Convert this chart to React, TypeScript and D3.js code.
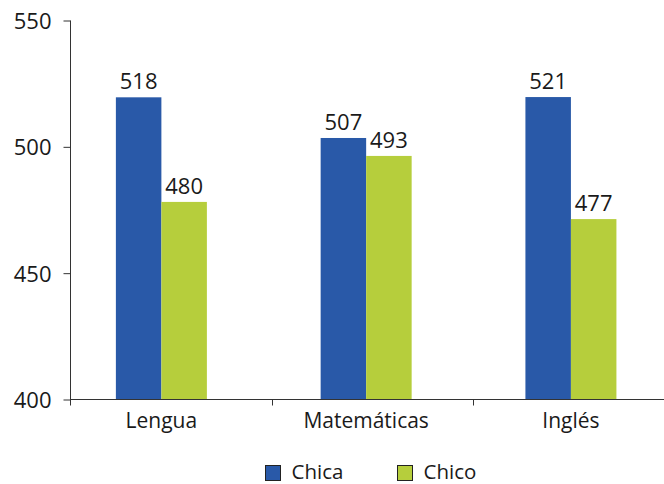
import { useEffect, useRef } from 'react';

import * as d3 from 'd3';

const WIDTH = 664;
const HEIGHT = 484;

const MARGIN = ({
  top: 20.5, right: 0, bottom: 84.5, left: 70.5,
});

const FONT = '"Open Sans", "Noto Sans", sans-serif';
const BLUE = '#2959a8';
const GREEN = '#b6ce3c';
const INK = '#1a1a1a';

const categories = ['Lengua', 'Matemáticas', 'Inglés'];
const series = ['Chica', 'Chico'];
// printed numbers above the bars
const chicaLabels = [518, 507, 521];
const chicoLabels = [480, 493, 477];
// bar heights as drawn in the picture (they don't quite match the printed numbers)
const chicaBars = [519.6, 503.5, 519.7];
const chicoBars = [478.2, 496.4, 471.4];
const yTicks = [400, 450, 500, 550];

function App() {
  const svgRef = useRef(null);

  useEffect(() => {
    const svg = d3.select(svgRef.current);
    svg.selectAll('*').remove();

    const y = d3.scaleLinear()
      .domain([400, 550])
      .range([HEIGHT - MARGIN.bottom, MARGIN.top]);

    // bar groups
    const x = d3.scaleBand()
      .domain(categories)
      .range([59, 673.3])
      .padding(0);

    const x1 = d3.scaleBand()
      .domain(series)
      .range([0, 91])
      .padding(0);

    // tick positions on the category axis
    const xt = d3.scaleBand()
      .domain(categories)
      .range([70, 674.5]);

    const groupOffset = (x.bandwidth() - 91) / 2;

    const rows = categories.map((c, i) => ({
      cat: c,
      vals: [
        { s: 'Chica', v: chicaBars[i], label: chicaLabels[i] },
        { s: 'Chico', v: chicoBars[i], label: chicoLabels[i] },
      ],
    }));

    const g = svg.append('g').attr('class', 'bars');
    const grp = g.selectAll('g')
      .data(rows)
      .join('g')
      .attr('transform', (d) => `translate(${(x(d.cat) || 0) + groupOffset},0)`);

    grp.selectAll('rect')
      .data((d) => d.vals)
      .join('rect')
      .attr('x', (d) => x1(d.s) || 0)
      .attr('y', (d) => y(d.v))
      .attr('width', x1.bandwidth())
      .attr('height', (d) => y(400) - y(d.v))
      .attr('fill', (d) => (d.s === 'Chica' ? BLUE : GREEN));

    grp.selectAll('text')
      .data((d) => d.vals)
      .join('text')
      .attr('x', (d) => (x1(d.s) || 0) + x1.bandwidth() / 2)
      .attr('y', (d) => y(d.v) - 8)
      .attr('text-anchor', 'middle')
      .attr('font-family', FONT)
      .attr('font-size', 22)
      .attr('fill', INK)
      .text((d) => d.label);

    // y axis
    const yAxis = svg.append('g')
      .attr('class', 'y-axis')
      .attr('transform', `translate(${MARGIN.left},0)`)
      .call(d3.axisLeft(y).tickValues(yTicks).tickSize(7).tickSizeOuter(0).tickPadding(12));
    yAxis.select('.domain').attr('stroke', '#333').attr('d', `M0,${y(550)}V${y(400) + 6}`);
    yAxis.selectAll('.tick line').attr('stroke', '#333');
    yAxis.selectAll('.tick text')
      .attr('font-family', FONT)
      .attr('font-size', 22)
      .attr('fill', INK)
      .attr('dy', '0.36em');

    // x axis
    const xAxis = svg.append('g').attr('class', 'x-axis');
    xAxis.append('line')
      .attr('x1', MARGIN.left)
      .attr('x2', WIDTH)
      .attr('y1', y(400))
      .attr('y2', y(400))
      .attr('stroke', '#333');
    xAxis.selectAll('line.tick')
      .data(categories.slice(1))
      .join('line')
      .attr('class', 'tick')
      .attr('x1', (d) => Math.round(xt(d) || 0) + 0.5)
      .attr('x2', (d) => Math.round(xt(d) || 0) + 0.5)
      .attr('y1', y(400))
      .attr('y2', y(400) + 6)
      .attr('stroke', '#333');
    xAxis.selectAll('text')
      .data(categories)
      .join('text')
      .attr('x', (d) => (x(d) || 0) + x.bandwidth() / 2)
      .attr('y', 428)
      .attr('text-anchor', 'middle')
      .attr('font-family', FONT)
      .attr('font-size', 21)
      .attr('fill', INK)
      .text((d) => d);

    // legend
    const legendX = d3.scalePoint()
      .domain(series)
      .range([265.5, 397.5]);
    const leg = svg.append('g')
      .attr('class', 'legend')
      .selectAll('g')
      .data(series)
      .join('g')
      .attr('transform', (d) => `translate(${legendX(d)},465.5)`);
    leg.append('rect')
      .attr('width', 15)
      .attr('height', 15)
      .attr('fill', (d) => (d === 'Chica' ? BLUE : GREEN))
      .attr('stroke', '#222')
      .attr('stroke-width', 1);
    leg.append('text')
      .attr('x', 26)
      .attr('y', 13.5)
      .attr('font-family', FONT)
      .attr('font-size', 20.5)
      .attr('fill', INK)
      .text((d) => d);
  }, []);

  return (
    <div style={{ position: 'absolute', left: 0, top: 0 }}>
      <svg
        ref={svgRef}
        width={WIDTH}
        height={HEIGHT}
        viewBox={`0 0 ${WIDTH} ${HEIGHT}`}
        style={{ display: 'block', background: '#fff' }}
      />
    </div>
  );
}

export default App;
